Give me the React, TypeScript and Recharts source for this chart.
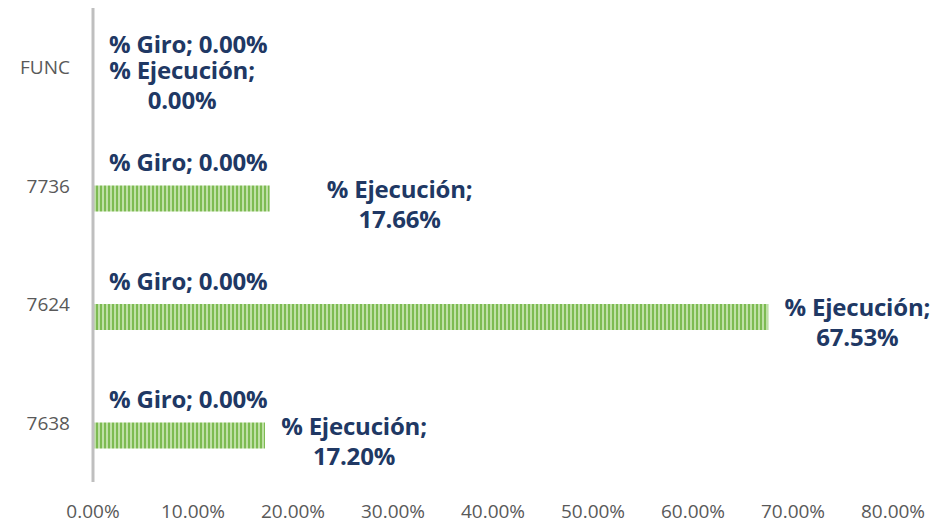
import { BarChart, Bar, XAxis, YAxis, LabelList } from 'recharts';

const categories = ['FUNC', '7736', '7624', '7638'];
const giro = [0, 0, 0, 0];
const ejecucion = [0, 0.1766, 0.6753, 0.172];
const xTicks = [0, 0.1, 0.2, 0.3, 0.4, 0.5, 0.6, 0.7, 0.8];

// Excel nudged the "% Ejecución" labels by hand, distance from bar end
const ejecLabelShift = [89, 130, 89, 89];

const data = categories.map((cat, i) => ({
  cat,
  giro: giro[i],
  ejecucion: ejecucion[i],
}));

const NAVY = '#203864';
const FONT = '"Open Sans", Lato, sans-serif';

const fmt = (v: number) => (v * 100).toFixed(2) + '%';

const GiroLabel = (props: any) => {
  const { x, y, width, height, value } = props;
  return (
    <text
      x={x + width + 16}
      y={y + height / 2 - 11}
      fill={NAVY}
      fontFamily={FONT}
      fontWeight={700}
      fontSize={24}
      letterSpacing={-0.2}
      textAnchor="start"
      dominantBaseline="central"
    >
      {'% Giro; ' + fmt(value)}
    </text>
  );
};

const EjecLabel = (props: any) => {
  const { x, y, width, height, value, index } = props;
  const cx = x + width + ejecLabelShift[index];
  const cy = y + height / 2;
  return (
    <text
      fill={NAVY}
      fontFamily={FONT}
      fontWeight={700}
      fontSize={24}
      letterSpacing={-0.2}
      textAnchor="middle"
      dominantBaseline="central"
    >
      <tspan x={cx} y={cy - 11}>% Ejecución;</tspan>
      <tspan x={cx} y={cy + 19}>{fmt(value)}</tspan>
    </text>
  );
};

const YTick = ({ y, payload }: any) => (
  <text x={70} y={y} fill="#595959" fontFamily={FONT} fontSize={19} textAnchor="end" dominantBaseline="central">
    {payload.value}
  </text>
);

const XTick = ({ x, y, payload }: any) => (
  <text x={x} y={y + 21} fill="#595959" fontFamily={FONT} fontSize={19} textAnchor="middle" dominantBaseline="central">
    {fmt(payload.value)}
  </text>
);

export default function App() {
  return (
    <div style={{ position: 'absolute', left: 0, top: 0, background: '#fff' }}>
      <BarChart
        width={935}
        height={524}
        data={data}
        layout="vertical"
        margin={{ top: 8, right: 42, left: 0, bottom: 0 }}
        barSize={26}
        barGap={0}
      >
        <defs>
          <pattern id="greenStripes" width="4" height="4" patternUnits="userSpaceOnUse">
            <rect x="0" y="0" width="4" height="4" fill="#bfe0a6" />
            <rect x="0" y="0" width="2" height="4" fill="#7dbb52" />
          </pattern>
        </defs>
        <XAxis
          type="number"
          domain={[0, 0.8]}
          ticks={xTicks}
          axisLine={false}
          tickLine={false}
          height={42}
          tick={<XTick />}
          interval={0}
        />
        <YAxis
          type="category"
          dataKey="cat"
          width={93}
          axisLine={{ stroke: '#bfbfbf', strokeWidth: 3 }}
          tickLine={false}
          tick={<YTick />}
        />
        <Bar dataKey="giro" fill="url(#greenStripes)" minPointSize={0.01} isAnimationActive={false}>
          <LabelList dataKey="giro" content={<GiroLabel />} />
        </Bar>
        <Bar dataKey="ejecucion" fill="url(#greenStripes)" minPointSize={0.01} isAnimationActive={false}>
          <LabelList dataKey="ejecucion" content={<EjecLabel />} />
        </Bar>
      </BarChart>
    </div>
  );
}
